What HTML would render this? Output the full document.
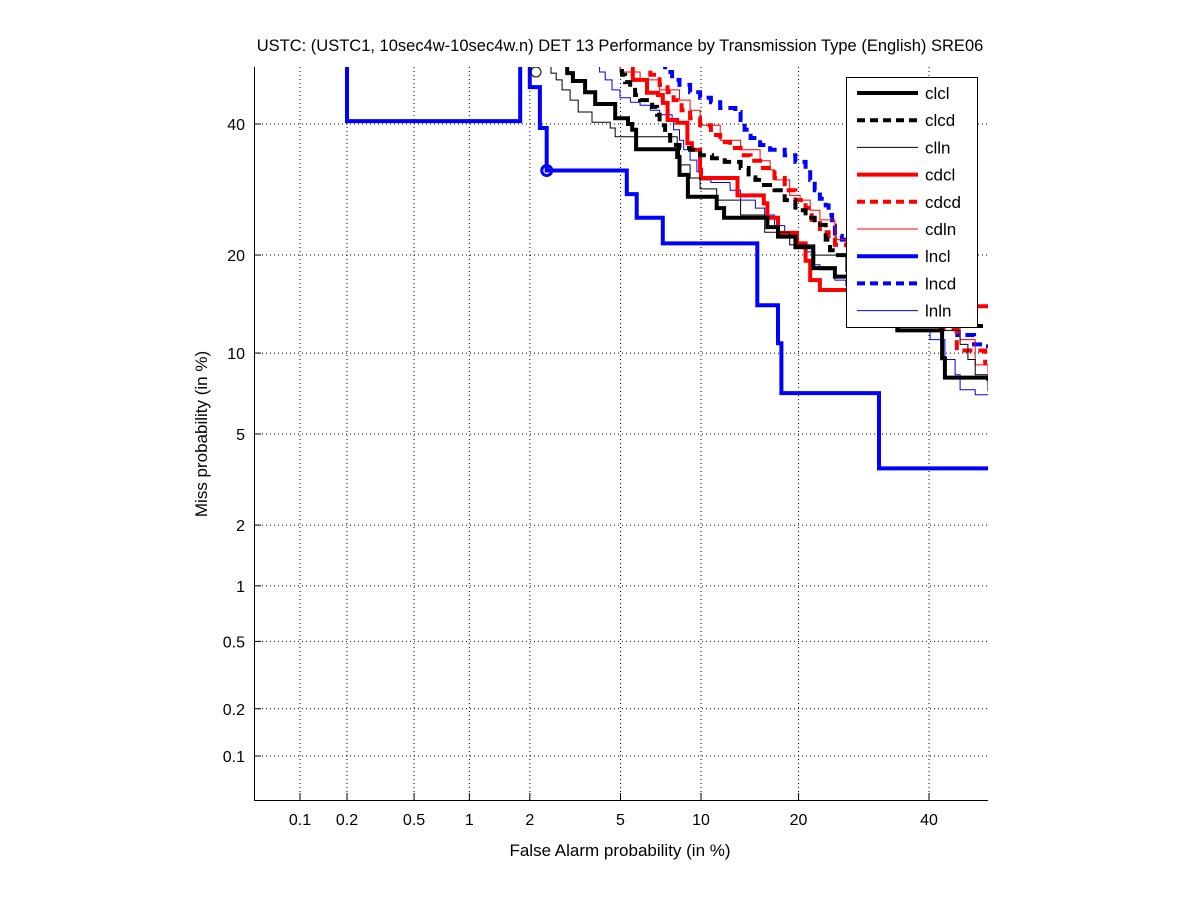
<!DOCTYPE html>
<html><head><meta charset="utf-8"><style>
body{margin:0;background:#fff;}
svg text{font-family:"Liberation Sans",sans-serif;}
</style></head><body>
<svg id="chart" width="1201" height="900" xmlns="http://www.w3.org/2000/svg">
<rect width="1201" height="900" fill="#fff"/>
<text x="620" y="51" font-size="16.5" text-anchor="middle">USTC: (USTC1, 10sec4w-10sec4w.n) DET 13 Performance by Transmission Type (English) SRE06</text>
<g id="grid"></g>
<g id="axes"></g>
<defs><clipPath id="clip"><rect x="254" y="67" width="734" height="733"/></clipPath></defs>
<g id="series" clip-path="url(#clip)"></g>
<text x="620" y="856" font-size="17" text-anchor="middle">False Alarm probability (in %)</text>
<text transform="translate(207,434) rotate(-90)" font-size="17" text-anchor="middle">Miss probability (in %)</text>
<g id="legend"></g>
</svg>
<script>
const xTicks=[0.1,0.2,0.5,1,2,5,10,20,40];
const yTicks=[0.1,0.2,0.5,1,2,5,10,20,40];
const seriesNames=["clcl","clcd","clln","cdcl","cdcd","cdln","lncl","lncd","lnln"];
const clclFA=[2.56,2.97,3.15,3.56,3.93,4.76,5.36,5.57,5.77,8.24,8.4,9.0,11.3,11.95,16.3,17.5,19.6,21.9,24.9,28,34.6,42.3,42.8,50.5];
const clclMiss=[50.5,49.0,47.6,45.6,43.5,41.0,40.0,39.0,35.7,34.4,31.5,28.1,26.4,25.0,23.7,22.4,21.0,18.4,17.4,15,11.9,9.6,8.2,8.0];
const clcdFA=[4.54,5.07,5.22,5.47,5.72,5.98,6.66,6.95,7.1,7.44,7.77,8.4,9.16,9.93,10.9,12.0,13.5,14.3,15.0,15.7,17.1,18.3,19.6,20.9,22.1,23.6,24.2,24.9,27,32,38,45,48,50.5];
const clcdMiss=[50.5,48.7,47.4,46.0,45.1,44.2,43.0,41.6,39.8,38.1,36.4,35.9,35.6,34.7,34.2,33.6,32.6,31.1,30.7,29.9,29.1,27.6,26.1,25.0,24.0,22.0,20.6,20.0,19,17,14.5,13,12.3,12.3];
const cllnFA=[2.44,2.51,2.65,2.82,3.06,3.32,3.81,4.54,4.76,8.24,8.4,9.16,9.93,11.3,13.5,16.0,18.9,22.1,26.5,30,36,42.0,45.5,46.9,48.2,50.5];
const cllnMiss=[50.5,49.0,47.8,46.0,44.2,42.1,40.3,39.3,37.8,35.6,33.1,31.0,29.3,27.6,25.4,23.0,21.3,20.0,18,15,12.5,11.9,10.7,9.5,8.4,7.3];
const cdclFA=[5.36,5.6,6.36,7.0,7.3,7.6,8.24,8.96,9.3,9.93,10.0,13.2,15.9,16.3,17.5,19.8,20.9,21.5,22.8,26.7,35,45,48,50.5];
const cdclMiss=[50.5,47.8,45.5,45.1,43.7,40.7,40.2,36.7,35.6,32.3,31.0,28.3,27.1,25.0,22.9,21.5,19.3,17.0,15.9,15.9,15,14.5,14.2,14.0];
const cdcdFA=[5.98,6.55,7.1,7.6,8.0,8.55,9.16,9.93,10.8,11.6,12.5,13.5,14.5,15.5,17.1,18.3,19.6,20.9,21.7,22.8,24.0,24.9,28,35,42,44.9,50];
const cdcdMiss=[50.5,48.7,46.9,45.6,44.2,42.4,41.0,39.8,38.1,36.9,35.9,34.7,33.8,32.6,31.0,29.1,27.6,26.4,24.7,23.0,22.2,21.3,19.5,16,12,10.2,9.1];
const cdlnFA=[4.1,4.98,5.98,7.1,8.4,9.16,9.93,11.6,13.5,15.5,16.6,17.1,18.9,20.2,21.5,22.8,24.9,26.5,32,40,45.5,48.2,50.5];
const cdlnMiss=[50.5,49.2,47.8,46.0,44.2,42.4,39.8,37.2,35.6,33.8,32.3,30.7,28.3,27.6,26.1,24.7,22.0,21.0,17,13,11.1,9.1,8.5];
const lnclFA=[0.2,0.2,1.8,2.0,2.23,2.4,5.3,5.8,7.3,15.2,17.5,17.9,31.6,50.5];
const lnclMiss=[50.5,40.5,50.5,46.5,39.3,32.2,28.5,25.0,21.5,14.3,10.8,7.2,3.6,3.6];
const lncdFA=[7.1,7.44,7.9,8.4,9.16,9.93,10.8,11.6,13.0,13.5,13.9,14.5,15.5,16.6,18.3,19.6,20.9,21.5,22.1,22.8,23.6,24.0,24.5,24.9,25.9,30,38,45,48,50.5];
const lncdMiss=[50.5,49.2,47.8,46.9,45.6,44.6,43.8,42.8,42.1,40.7,39.0,37.6,36.4,35.6,34.7,33.6,32.3,30.7,29.1,27.8,26.8,25.4,23.9,22.5,22.0,18,13.5,11.5,10.7,10.4];
const lnlnFA=[3.9,4.1,4.33,4.62,4.98,5.48,5.98,6.55,7.1,7.9,8.0,8.4,8.7,9.16,9.68,9.93,10.8,12.5,13.5,15.0,16.0,17.1,18.3,19.6,20.9,22.1,22.8,24.9,26.5,35.0,40.2,42.8,44.6,45.5,48.2,50.5];
const lnlnMiss=[50.5,49.2,47.8,46.0,44.6,43.8,43.3,42.4,41.6,40.7,39.0,37.2,35.6,33.9,32.0,30.7,30.3,29.1,27.6,26.4,25.4,23.9,22.5,21.3,20.4,18.8,18.2,17.0,16.4,11.9,11.1,9.5,8.4,7.4,7.1,7.1];
const operatingFA=[2.4];
const operatingMiss=[32.2];

function ndtri(p){
  const a=[-3.969683028665376e+01,2.209460984245205e+02,-2.759285104469687e+02,1.383577518672690e+02,-3.066479806614716e+01,2.506628277459239e+00];
  const b=[-5.447609879822406e+01,1.615858368580409e+02,-1.556989798598866e+02,6.680131188771972e+01,-1.328068155288572e+01];
  const c=[-7.784894002430293e-03,-3.223964580411365e-01,-2.400758277161838e+00,-2.549732539343734e+00,4.374664141464968e+00,2.938163982698783e+00];
  const d=[7.784695709041462e-03,3.224671290700398e-01,2.445134137142996e+00,3.754408661907416e+00];
  const pl=0.02425;let q,r;
  if(p<pl){q=Math.sqrt(-2*Math.log(p));return (((((c[0]*q+c[1])*q+c[2])*q+c[3])*q+c[4])*q+c[5])/((((d[0]*q+d[1])*q+d[2])*q+d[3])*q+1);}
  if(p<=1-pl){q=p-0.5;r=q*q;return (((((a[0]*r+a[1])*r+a[2])*r+a[3])*r+a[4])*r+a[5])*q/(((((b[0]*r+b[1])*r+b[2])*r+b[3])*r+b[4])*r+1);}
  q=Math.sqrt(-2*Math.log(1-p));return -(((((c[0]*q+c[1])*q+c[2])*q+c[3])*q+c[4])*q+c[5])/((((d[0]*q+d[1])*q+d[2])*q+d[3])*q+1);
}
const z0=ndtri(0.001), z40=ndtri(0.4);
const sx=(929-300)/(z40-z0), sy=(756-124)/(z40-z0);
function xOf(p){return 300+(ndtri(p/100)-z0)*sx;}
function yOf(p){return 756-(ndtri(p/100)-z0)*sy;}
const NS="http://www.w3.org/2000/svg";
function mk(tag,attrs,parent){const e=document.createElementNS(NS,tag);for(const k in attrs)e.setAttribute(k,attrs[k]);parent.appendChild(e);return e;}
const grid=document.getElementById('grid'),axes=document.getElementById('axes');
xTicks.forEach(t=>{
  const x=xOf(t);
  const g=mk('line',{x1:x,x2:x,y1:67,y2:800,stroke:'#000','stroke-width':1,'stroke-dasharray':'1,3'},grid);
  
  
  const tk=mk('line',{x1:x,x2:x,y1:800,y2:793,stroke:'#000'},axes);
  
  
  const tl=mk('text',{x:x,y:825,'font-size':16,'text-anchor':'middle'},axes);
  tl.textContent=String(t);
  
  
});
yTicks.forEach(t=>{
  const y=yOf(t);
  const g=mk('line',{x1:254,x2:988,y1:y,y2:y,stroke:'#000','stroke-width':1,'stroke-dasharray':'1,3'},grid);
  
  
  const tk=mk('line',{x1:254,x2:261,y1:y,y2:y,stroke:'#000'},axes);
  
  
  const tl=mk('text',{x:245,y:y+6,'font-size':16,'text-anchor':'end'},axes);
  tl.textContent=String(t);
  
  
});
const ax=mk('path',{d:'M254.5,67 V800.5 H988',fill:'none',stroke:'#000','stroke-width':1},axes);



const styles=[
 {fa:clclFA,miss:clclMiss,c:'#000',w:4,d:''},
 {fa:clcdFA,miss:clcdMiss,c:'#000',w:4,d:'10,6'},
 {fa:cllnFA,miss:cllnMiss,c:'#000',w:1,d:''},
 {fa:cdclFA,miss:cdclMiss,c:'#f00',w:4,d:''},
 {fa:cdcdFA,miss:cdcdMiss,c:'#f00',w:4,d:'10,6'},
 {fa:cdlnFA,miss:cdlnMiss,c:'#f00',w:1,d:''},
 {fa:lnclFA,miss:lnclMiss,c:'#00f',w:4,d:''},
 {fa:lncdFA,miss:lncdMiss,c:'#00f',w:4,d:'10,6'},
 {fa:lnlnFA,miss:lnlnMiss,c:'#00f',w:1,d:''}
];
const sg=document.getElementById('series');
const drawOrder=[8,7,6,5,4,3,2,1,0];
drawOrder.forEach(i=>{
  const s=styles[i];
  let d='M'+xOf(s.fa[0]).toFixed(1)+','+yOf(s.miss[0]).toFixed(1);
  for(let k=1;k<s.fa.length;k++){
    d+=' H'+xOf(s.fa[k]).toFixed(1)+' V'+yOf(s.miss[k]).toFixed(1);
  }
  const p=mk('path',{d:d,fill:'none',stroke:s.c,'stroke-width':s.w,'stroke-dasharray':s.d},sg);
  
  
});
operatingFA.forEach((f,i)=>{
  const c=mk('circle',{cx:xOf(f),cy:yOf(operatingMiss[i]),r:5,fill:'none',stroke:'#00f','stroke-width':3},sg);
  
  
});
const bc=mk('circle',{cx:536,cy:72,r:5,fill:'none',stroke:'#000','stroke-width':1},sg);



const lg=document.getElementById('legend');
const box=mk('rect',{x:846.5,y:77.5,width:131,height:250,fill:'#fff',stroke:'#000','stroke-width':1},lg);


seriesNames.forEach((n,i)=>{
  const s=styles[i],y=93+i*27.2;
  const l=mk('line',{x1:857,x2:918,y1:y,y2:y,stroke:s.c,'stroke-width':s.w,'stroke-dasharray':s.d?'8,5':''},lg);
  
  
  const t=mk('text',{x:925,y:y+6,'font-size':17},lg);
  t.textContent=n;
  
  
});
</script>
</body></html>
